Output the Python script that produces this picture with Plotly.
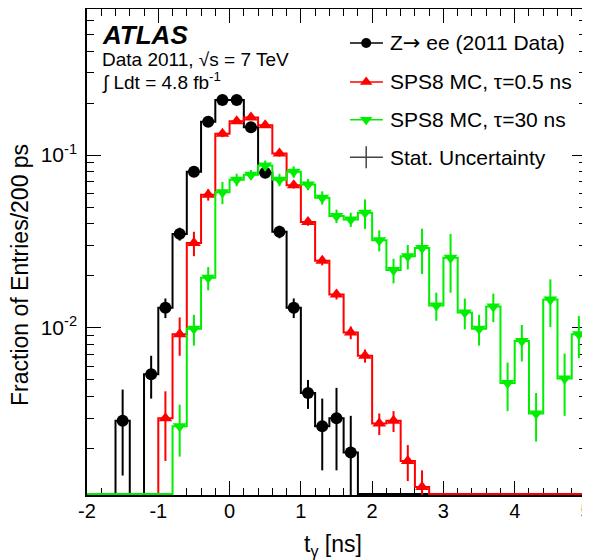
import math
import plotly.graph_objects as go

# ---------------- data ----------------
t_centers = [-1.9, -1.7, -1.5, -1.3, -1.1, -0.9, -0.7, -0.5, -0.3, -0.1,
             0.1, 0.3, 0.5, 0.7, 0.9, 1.1, 1.3, 1.5, 1.7, 1.9,
             2.1, 2.3, 2.5, 2.7, 2.9, 3.1, 3.3, 3.5, 3.7, 3.9,
             4.1, 4.3, 4.5, 4.7, 4.9]

data_frac = [0, 0, 0.0029, 0, 0.0054, 0.0131, 0.0350, 0.080, 0.156, 0.208,
             0.208, 0.145, 0.079, 0.036, 0.0131, 0.0042, 0.0027, 0.0030, 0.0019, 0,
             0, 0, 0, 0, 0, 0, 0, 0, 0, 0,
             0, 0, 0, 0, 0]
data_err = [0, 0, 0.0015, 0, 0.0015, 0.0017, 0.003, 0.005, 0.007, 0.008,
            0.008, 0.007, 0.005, 0.003, 0.0017, 0.0008, 0.0012, 0.0015, 0.0012, 0,
            0, 0, 0, 0, 0, 0, 0, 0, 0, 0,
            0, 0, 0, 0, 0]

mc05_frac = [0, 0, 0, 0, 0, 0.0030, 0.0092, 0.031, 0.059, 0.133,
             0.157, 0.165, 0.149, 0.102, 0.067, 0.041, 0.0245, 0.0156, 0.0094, 0.0069,
             0.0028, 0.0029, 0.0017, 0.0012, 0, 0, 0, 0, 0, 0,
             0, 0, 0, 0, 0]
mc05_err = [0, 0, 0, 0, 0, 0.0013, 0.0023, 0.005, 0.0045, 0.006,
            0.005, 0.005, 0.005, 0.004, 0.003, 0.002, 0.0015, 0.001, 0.0008, 0.0006,
            0.0004, 0.0004, 0.0004, 0.0003, 0, 0, 0, 0, 0, 0,
            0, 0, 0, 0, 0]

mc30_frac = [0, 0, 0, 0, 0, 0, 0.0027, 0.0099, 0.0195, 0.061,
             0.072, 0.077, 0.087, 0.072, 0.080, 0.0676, 0.0567, 0.0444, 0.0424, 0.0464,
             0.0322, 0.0216, 0.026, 0.029, 0.0135, 0.0255, 0.0123, 0.0099, 0.0133, 0.0048,
             0.0084, 0.0032, 0.0146, 0.0051, 0.0092]
mc30_err = [0, 0, 0, 0, 0, 0, 0.0009, 0.002, 0.003, 0.009,
            0.006, 0.005, 0.006, 0.006, 0.006, 0.005, 0.005, 0.004, 0.004, 0.009,
            0.0045, 0.0035, 0.0042, 0.0085, 0.0025, 0.0095, 0.0025, 0.002, 0.0025, 0.0015,
            0.002, 0.001, 0.0045, 0.002, 0.0025]

x_tickvals = [-2, -1, 0, 1, 2, 3, 4, 5]
x_ticktext = ["-2", "-1", "0", "1", "2", "3", "4", "5"]
y_tickvals = [0.01, 0.1]
y_ticktext = ["10<sup>-2</sup>", "10<sup>-1</sup>"]
y_minor = [0.002, 0.003, 0.004, 0.005, 0.006, 0.007, 0.008, 0.009,
           0.02, 0.03, 0.04, 0.05, 0.06, 0.07, 0.08, 0.09,
           0.2, 0.3, 0.4, 0.5, 0.6, 0.7]

legend_labels = ["Z<span style=\"font-family:DejaVu Sans\">\u2192</span> ee (2011 Data)",
                 "SPS8 MC, \u03c4=0.5 ns",
                 "SPS8 MC, \u03c4=30 ns", "Stat. Uncertainty"]

# ---------------- styling ----------------
FONT = "Liberation Sans"
RED = "#ff0000"
GREEN = "#00ee00"
Y_MIN, Y_MAX = 0.00108, 0.70
FLOOR = Y_MIN * 1.012
BIN_HALF = 0.1

edges = [c - BIN_HALF for c in t_centers] + [t_centers[-1] + BIN_HALF]

fig = go.Figure()


def add_series(vals, errs, color, symbol, msize):
    ys = [v if v > 0 else FLOOR for v in vals]
    fig.add_trace(go.Scatter(x=edges, y=ys + [ys[-1]], mode="lines",
                             line=dict(color=color, width=2, shape="hv"),
                             hoverinfo="skip"))
    ex, ey = [], []
    for c, v, e in zip(t_centers, vals, errs):
        if v > 0 and e > 0:
            ex += [c, c, None]
            ey += [max(v - e, 1e-5), v + e, None]
    fig.add_trace(go.Scatter(x=ex, y=ey, mode="lines",
                             line=dict(color=color, width=2), hoverinfo="skip"))
    mx = [c for c, v in zip(t_centers, vals) if v > 0]
    my = [v for v in vals if v > 0]
    fig.add_trace(go.Scatter(x=mx, y=my, mode="markers",
                             marker=dict(symbol=symbol, size=msize, color=color,
                                         line=dict(width=0))))


add_series(data_frac, data_err, "black", "circle", 12)
add_series(mc05_frac, mc05_err, RED, "triangle-up", 12)
add_series(mc30_frac, mc30_err, GREEN, "triangle-down", 12)

# ---------------- legend (drawn on an overlay axis in plot fractions) ----------------
row_y = [0.930, 0.850, 0.772, 0.695]
lx0, lx1, lxm = 0.527, 0.593, 0.5595
leg_colors = ["black", RED, GREEN]
leg_symbols = ["circle", "triangle-up", "triangle-down"]
leg_sizes = [10, 11, 11]
for yy, col, sym, sz in zip(row_y[:3], leg_colors, leg_symbols, leg_sizes):
    fig.add_trace(go.Scatter(x=[lx0, lx1], y=[yy, yy], mode="lines",
                             line=dict(color=col, width=1.5),
                             xaxis="x2", yaxis="y2", hoverinfo="skip"))
    fig.add_trace(go.Scatter(x=[lxm], y=[yy], mode="markers",
                             marker=dict(symbol=sym, size=sz, color=col),
                             xaxis="x2", yaxis="y2", hoverinfo="skip"))
dy = 11 / 486
fig.add_trace(go.Scatter(x=[lx0, lx1, None, lxm, lxm],
                         y=[row_y[3], row_y[3], None, row_y[3] - dy, row_y[3] + dy],
                         mode="lines", line=dict(color="#444444", width=1.5),
                         xaxis="x2", yaxis="y2", hoverinfo="skip"))

annotations = []
for yy, lab in zip(row_y, legend_labels):
    annotations.append(dict(x=0.603, y=yy, xref="paper", yref="paper",
                            text=lab, showarrow=False, xanchor="left",
                            yanchor="middle", font=dict(size=21, family=FONT, color="black")))

annotations += [
    dict(x=0.027, y=0.947, xref="paper", yref="paper", text="<b><i>ATLAS</i></b>",
         showarrow=False, xanchor="left", yanchor="middle",
         font=dict(size=26, family=FONT, color="black")),
    dict(x=0.027, y=0.897, xref="paper", yref="paper",
         text="Data 2011, \u221as = 7 TeV",
         showarrow=False, xanchor="left", yanchor="middle",
         font=dict(size=19, family=FONT, color="black")),
    dict(x=0.027, y=0.850, xref="paper", yref="paper",
         text="\u222b Ldt = 4.8 fb<sup>-1</sup>",
         showarrow=False, xanchor="left", yanchor="middle",
         font=dict(size=19, family=FONT, color="black")),
    dict(x=-0.134, y=0.453, xref="paper", yref="paper",
         text="Fraction of Entries/200 ps", textangle=-90,
         showarrow=False, xanchor="center", yanchor="middle",
         font=dict(size=23, family=FONT, color="black")),
    dict(x=0.493, y=-0.103, xref="paper", yref="paper",
         text="t<sub>\u03b3</sub> [ns]",
         showarrow=False, xanchor="center", yanchor="middle",
         font=dict(size=23, family=FONT, color="black")),
]

# the page body has an 8 px margin, so the figure is drawn 8 px in from the
# window's corner; size and margins compensate for it
fig.update_layout(
    width=582, height=552,
    margin=dict(l=79, r=4, t=1, b=65, autoexpand=False),
    plot_bgcolor="white", paper_bgcolor="white",
    showlegend=False,
    font=dict(family=FONT, color="black"),
    annotations=annotations,
    xaxis=dict(range=[-2, 5], showline=True, linecolor="black", linewidth=1.5,
               mirror="ticks", ticks="inside", ticklen=14, tickwidth=1.2,
               tickcolor="black", tickmode="array", tickvals=x_tickvals,
               ticktext=x_ticktext, tickfont=dict(size=20, family=FONT, color="black"),
               showgrid=False, zeroline=False, layer="below traces",
               ticklabelstandoff=-3, automargin=False, ticklabeloverflow="allow",
               minor=dict(ticks="inside", ticklen=7, dtick=0.2, tick0=0,
                          tickcolor="black", tickwidth=1, showgrid=False)),
    yaxis=dict(type="log", range=[math.log10(Y_MIN), math.log10(Y_MAX)],
               showline=True, linecolor="black", linewidth=1.5,
               mirror="ticks", ticks="inside", ticklen=14, tickwidth=1.2,
               tickcolor="black", tickmode="array", tickvals=y_tickvals,
               ticktext=y_ticktext, tickfont=dict(size=21, family=FONT, color="black"),
               showgrid=False, zeroline=False, layer="below traces",
               ticklabelstandoff=4, automargin=False,
               minor=dict(ticks="inside", ticklen=7, tickmode="array",
                          tickvals=y_minor, tickcolor="black", tickwidth=1,
                          showgrid=False)),
    xaxis2=dict(overlaying="x", range=[0, 1], visible=False, anchor="y2"),
    yaxis2=dict(overlaying="y", range=[0, 1], visible=False, anchor="x2"),
)

fig.write_html("out.html")
